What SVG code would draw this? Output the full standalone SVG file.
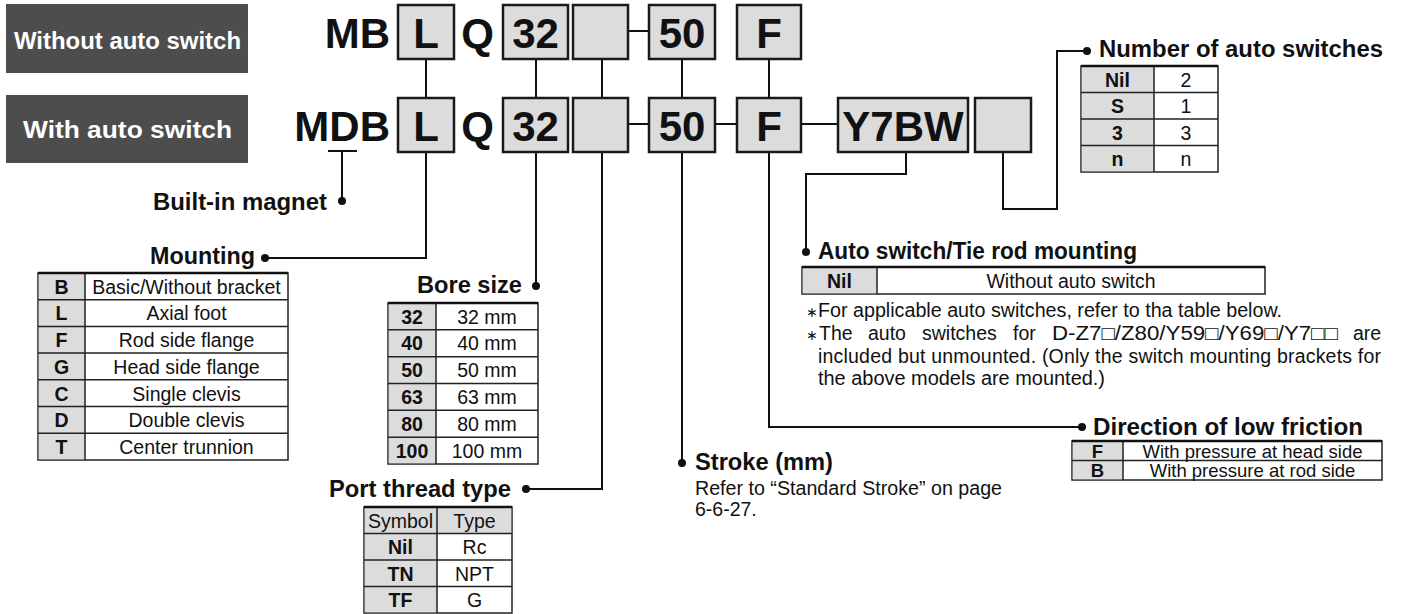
<svg xmlns="http://www.w3.org/2000/svg" width="1401" height="614" viewBox="0 0 1401 614">
<style>
text{font-family:"Liberation Sans",Arial,Helvetica,sans-serif;fill:#111}
.code{font-weight:bold;font-size:42px;text-anchor:middle}
.codeE{font-weight:bold;font-size:42px;text-anchor:end}
.box{fill:#dcdcdc;stroke:#1a1a1a;stroke-width:2.5}
.tag{fill:#4d4d4d}
.tagt{font-weight:bold;font-size:24px;fill:#fff}
.hd{font-weight:bold;font-size:23.5px}
.conn{stroke:#111;stroke-width:2;fill:none}
.dot{fill:#111}
.tbl{fill:#fff;stroke:#222;stroke-width:1.5}
.g{fill:#dcdcdc}
.ln{stroke:#222;stroke-width:1.5}
.top{stroke:#111;stroke-width:2.5}
.c{font-size:19.5px;text-anchor:middle}
.cb{font-size:19.5px;font-weight:bold;text-anchor:middle}
.s{font-size:18.5px;text-anchor:middle}
.sb{font-size:18.5px;font-weight:bold;text-anchor:middle}
.note{font-size:19.5px}
.ast{font-size:14px}
</style>

<g id="tag-without">
<rect class="tag" x="6" y="4" width="242" height="69"/>
<text class="tagt" x="14" y="49" textLength="227" lengthAdjust="spacingAndGlyphs">Without auto switch</text>
</g>
<g id="tag-with">
<rect class="tag" x="6" y="95" width="242" height="68"/>
<text class="tagt" x="23" y="138" textLength="209" lengthAdjust="spacingAndGlyphs">With auto switch</text>
</g>

<g id="connectors">
<path class="conn" d="M426 59V98M536 59V98M602 59V98M682 59V98M769 59V98"/>
<path class="conn" d="M628 31H649M628 124H649M715 124H737M801 124H838"/>
<path class="conn" d="M328 151H357M342 151V201"/>
<circle class="dot" cx="342" cy="201" r="4"/>
<path class="conn" d="M426 152V258H265"/>
<circle class="dot" cx="265" cy="258" r="4"/>
<path class="conn" d="M536 152V286"/>
<circle class="dot" cx="536" cy="286" r="4"/>
<path class="conn" d="M602 152V489H526"/>
<circle class="dot" cx="526" cy="489" r="4"/>
<path class="conn" d="M682 152V463"/>
<circle class="dot" cx="682" cy="463" r="4"/>
<path class="conn" d="M769 152V427H1082"/>
<circle class="dot" cx="1082" cy="427" r="4"/>
<path class="conn" d="M906 152V174H806V252"/>
<circle class="dot" cx="806" cy="252" r="4"/>
<path class="conn" d="M1003 152V209H1057V51H1087"/>
<circle class="dot" cx="1087" cy="51" r="4"/>
</g>

<g id="code-row1">
<text class="codeE" x="390" y="48">MB</text>
<rect class="box" x="398" y="5" width="56" height="54"/>
<text class="code" x="426" y="48">L</text>
<text class="code" x="477.5" y="48">Q</text>
<rect class="box" x="503" y="5" width="65" height="54"/>
<text class="code" x="535.5" y="48">32</text>
<rect class="box" x="573" y="5" width="55" height="54"/>
<rect class="box" x="649" y="5" width="66" height="54"/>
<text class="code" x="682" y="48">50</text>
<rect class="box" x="737" y="5" width="64" height="54"/>
<text class="code" x="769" y="48">F</text>
</g>

<g id="code-row2">
<text class="codeE" x="390" y="141">MDB</text>
<rect class="box" x="398" y="98" width="56" height="54"/>
<text class="code" x="426" y="141">L</text>
<text class="code" x="477.5" y="141">Q</text>
<rect class="box" x="503" y="98" width="65" height="54"/>
<text class="code" x="535.5" y="141">32</text>
<rect class="box" x="573" y="98" width="55" height="54"/>
<rect class="box" x="649" y="98" width="66" height="54"/>
<text class="code" x="682" y="141">50</text>
<rect class="box" x="737" y="98" width="64" height="54"/>
<text class="code" x="769" y="141">F</text>
<rect class="box" x="838" y="98" width="130" height="54"/>
<text class="code" x="903" y="141">Y7BW</text>
<rect class="box" x="975" y="98" width="56" height="54"/>
</g>

<g id="built-in-magnet">
<text class="hd" x="153" y="210" textLength="174" lengthAdjust="spacingAndGlyphs">Built-in magnet</text>
</g>

<g id="mounting">
<text class="hd" x="150" y="264" textLength="105" lengthAdjust="spacingAndGlyphs">Mounting</text>
<rect class="tbl" x="38" y="273" width="250" height="187"/>
<rect class="g" x="38.75" y="273.75" width="46.25" height="185.5"/>
<path class="ln" d="M38 299.7H288M38 326.4H288M38 353.1H288M38 379.8H288M38 406.6H288M38 433.3H288M85 273V460"/>
<path class="top" d="M38 273H288"/>
<text class="cb" x="61.5" y="293.5">B</text><text class="c" x="186.5" y="293.5">Basic/Without bracket</text>
<text class="cb" x="61.5" y="320">L</text><text class="c" x="186.5" y="320">Axial foot</text>
<text class="cb" x="61.5" y="347">F</text><text class="c" x="186.5" y="347">Rod side flange</text>
<text class="cb" x="61.5" y="374">G</text><text class="c" x="186.5" y="374">Head side flange</text>
<text class="cb" x="61.5" y="400.5">C</text><text class="c" x="186.5" y="400.5">Single clevis</text>
<text class="cb" x="61.5" y="427">D</text><text class="c" x="186.5" y="427">Double clevis</text>
<text class="cb" x="61.5" y="454">T</text><text class="c" x="186.5" y="454">Center trunnion</text>
</g>

<g id="bore-size">
<text class="hd" x="417" y="293" textLength="105" lengthAdjust="spacingAndGlyphs">Bore size</text>
<rect class="tbl" x="388" y="303" width="150" height="161"/>
<rect class="g" x="388.75" y="303.75" width="47.25" height="159.5"/>
<path class="ln" d="M388 329.8H538M388 356.7H538M388 383.5H538M388 410.3H538M388 437.2H538M436 303V464"/>
<path class="top" d="M388 303H538"/>
<text class="cb" x="412" y="323.5">32</text><text class="c" x="487" y="323.5">32 mm</text>
<text class="cb" x="412" y="350">40</text><text class="c" x="487" y="350">40 mm</text>
<text class="cb" x="412" y="377">50</text><text class="c" x="487" y="377">50 mm</text>
<text class="cb" x="412" y="404">63</text><text class="c" x="487" y="404">63 mm</text>
<text class="cb" x="412" y="431">80</text><text class="c" x="487" y="431">80 mm</text>
<text class="cb" x="412" y="458">100</text><text class="c" x="487" y="458">100 mm</text>
</g>

<g id="port-thread">
<text class="hd" x="329" y="497" textLength="182" lengthAdjust="spacingAndGlyphs">Port thread type</text>
<rect class="tbl" x="364" y="507" width="148" height="106"/>
<rect class="g" x="364.75" y="507.75" width="72.25" height="104.5"/>
<rect class="g" x="437" y="507.75" width="74.25" height="25.75"/>
<path class="ln" d="M364 533.5H512M364 560H512M364 586.5H512M437 507V613"/>
<path class="top" d="M364 507H512"/>
<text class="c" x="400.5" y="527.5">Symbol</text><text class="c" x="474.5" y="527.5">Type</text>
<text class="cb" x="400.5" y="554">Nil</text><text class="c" x="474.5" y="554">Rc</text>
<text class="cb" x="400.5" y="580.5">TN</text><text class="c" x="474.5" y="580.5">NPT</text>
<text class="cb" x="400.5" y="607">TF</text><text class="c" x="474.5" y="607">G</text>
</g>

<g id="stroke">
<text class="hd" x="695" y="470" textLength="138" lengthAdjust="spacingAndGlyphs">Stroke (mm)</text>
<text class="note" x="695" y="495" textLength="307" lengthAdjust="spacingAndGlyphs">Refer to “Standard Stroke” on page</text>
<text class="note" x="695" y="516">6-6-27.</text>
</g>

<g id="auto-switch">
<text class="hd" x="818" y="259" textLength="319" lengthAdjust="spacingAndGlyphs">Auto switch/Tie rod mounting</text>
<rect class="tbl" x="802" y="267" width="463" height="27"/>
<rect class="g" x="802.75" y="267.75" width="74.25" height="25.5"/>
<path class="ln" d="M877 267V294"/>
<path class="top" d="M802 267H1265"/>
<text class="cb" x="839.5" y="288">Nil</text><text class="c" x="1071" y="288">Without auto switch</text>
<text class="note ast" x="806" y="317">∗</text>
<text class="note" x="818" y="317" textLength="464" lengthAdjust="spacingAndGlyphs">For applicable auto switches, refer to tha table below.</text>
<text class="note ast" x="806" y="340">∗</text>
<text class="note" y="340"><tspan x="819">The</tspan><tspan x="868">auto</tspan><tspan x="922">switches</tspan><tspan x="1013">for</tspan></text>
<text class="note" x="1052" y="340" textLength="286" lengthAdjust="spacingAndGlyphs">D-Z7□/Z80/Y59□/Y69□/Y7□□</text>
<text class="note" x="1353" y="340">are</text>
<text class="note" x="818" y="363" textLength="563" lengthAdjust="spacing">included but unmounted. (Only the switch mounting brackets for</text>
<text class="note" x="818" y="385" textLength="287" lengthAdjust="spacingAndGlyphs">the above models are mounted.)</text>
</g>

<g id="direction">
<text class="hd" x="1093" y="435" textLength="270" lengthAdjust="spacingAndGlyphs">Direction of low friction</text>
<rect class="tbl" x="1072" y="441" width="310" height="39"/>
<rect class="g" x="1072.75" y="441.75" width="50.25" height="37.5"/>
<path class="ln" d="M1072 460.5H1382M1123 441V480"/>
<path class="top" d="M1072 441H1382"/>
<text class="sb" x="1097.5" y="457.5">F</text><text class="s" x="1252.5" y="457.5" textLength="220" lengthAdjust="spacingAndGlyphs">With pressure at head side</text>
<text class="sb" x="1097.5" y="477">B</text><text class="s" x="1252.5" y="477">With pressure at rod side</text>
</g>

<g id="number-of-switches">
<text class="hd" x="1099" y="57" textLength="284" lengthAdjust="spacingAndGlyphs">Number of auto switches</text>
<rect class="tbl" x="1081" y="66" width="137" height="106"/>
<rect class="g" x="1081.75" y="66.75" width="72.25" height="104.5"/>
<path class="ln" d="M1081 92.5H1218M1081 119H1218M1081 145.5H1218M1154 66V172"/>
<path class="top" d="M1081 66H1218"/>
<text class="cb" x="1117.5" y="86.5">Nil</text><text class="c" x="1186" y="86.5">2</text>
<text class="cb" x="1117.5" y="113">S</text><text class="c" x="1186" y="113">1</text>
<text class="cb" x="1117.5" y="139.5">3</text><text class="c" x="1186" y="139.5">3</text>
<text class="cb" x="1117.5" y="166">n</text><text class="c" x="1186" y="166">n</text>
</g>
</svg>
